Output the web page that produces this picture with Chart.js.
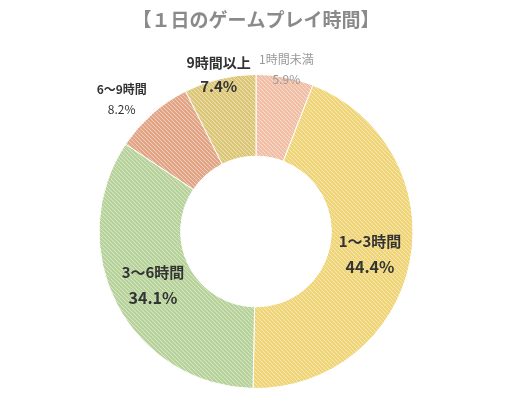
<!DOCTYPE html>
<html>
<head>
<meta charset="utf-8">
<script src="https://cdn.jsdelivr.net/npm/chart.js"></script>
<style>
html, body { margin: 0; padding: 0; background: #fff; }
#wrap { width: 512px; height: 417px; }
</style>
</head>
<body>
<div id="wrap"><canvas id="Graf"></canvas></div>
<script>
var kategorier = ["1時間未満", "1〜3時間", "3〜6時間", "6〜9時間", "9時間以上"];
var andele = [5.9, 44.4, 34.1, 8.2, 7.4];
var farver = ["#f0bfa5", "#efd577", "#b7d29a", "#e2a585", "#dcc778"];
var labelSize = [12, 15, 15, 12, 14];
var labelColor = ["#999", "#333", "#333", "#333", "#333"];
// label distance: fraction between inner and outer radius, >1 means outside
var labelPos = [1.05, 0.5, 0.5, 1.12, 1.03];

function Hatch(color) {
    var c = document.createElement("canvas");
    c.width = 4; c.height = 4;
    var g = c.getContext("2d");
    g.fillStyle = color;
    g.fillRect(0, 0, 4, 4);
    g.strokeStyle = "rgba(255,255,255,0.45)";
    g.lineWidth = 1;
    g.beginPath();
    g.moveTo(0, 0); g.lineTo(4, 4);
    g.moveTo(-2, 2); g.lineTo(2, 6);
    g.moveTo(2, -2); g.lineTo(6, 2);
    g.stroke();
    return g.createPattern(c, "repeat");
}

var etiketter = {
    id: "etiketter",
    afterDraw: function (chart) {
        var ctx = chart.ctx;
        ctx.save();
        ctx.textAlign = "center";
        ctx.textBaseline = "middle";
        ctx.fillStyle = "#8a8a8a";
        ctx.font = "bold 19px 'Noto Sans CJK JP'";
        ctx.fillText("【１日のゲームプレイ時間】", chart.width / 2, 20);
        chart.getDatasetMeta(0).data.forEach(function (arc, i) {
            var mid = (arc.startAngle + arc.endAngle) / 2;
            var r = arc.innerRadius + (arc.outerRadius - arc.innerRadius) * labelPos[i];
            if (labelPos[i] > 1) r = arc.outerRadius * labelPos[i];
            var x = arc.x + Math.cos(mid) * r;
            var y = arc.y + Math.sin(mid) * r;
            if (i == 3) x -= 18;
            var s = labelSize[i];
            ctx.fillStyle = labelColor[i];
            ctx.font = (i == 0 ? "" : "bold ") + s + "px 'Noto Sans CJK JP'";
            ctx.fillText(kategorier[i], x, y - s * 0.85);
            ctx.font = (i == 0 ? "" : (i == 3 ? "" : "bold ")) + (i == 3 || i == 0 ? s : s + 1) + "px 'Noto Sans CJK JP'";
            ctx.fillText(andele[i].toFixed(1) + "%", x, y + s * 0.85);
        });
        ctx.restore();
    }
};

new Chart("Graf", {
    type: "doughnut",
    data: {
        labels: kategorier,
        datasets: [{
            data: andele,
            backgroundColor: farver.map(Hatch),
            borderColor: "#ffffff",
            borderWidth: 1
        }]
    },
    options: {
        responsive: true,
        maintainAspectRatio: false,
        animation: false,
        cutout: "48%",
        layout: { padding: { top: 74, bottom: 28 } },
        plugins: {
            legend: { display: false },
            tooltip: { enabled: false }
        }
    },
    plugins: [etiketter]
});
</script>
</body>
</html>
